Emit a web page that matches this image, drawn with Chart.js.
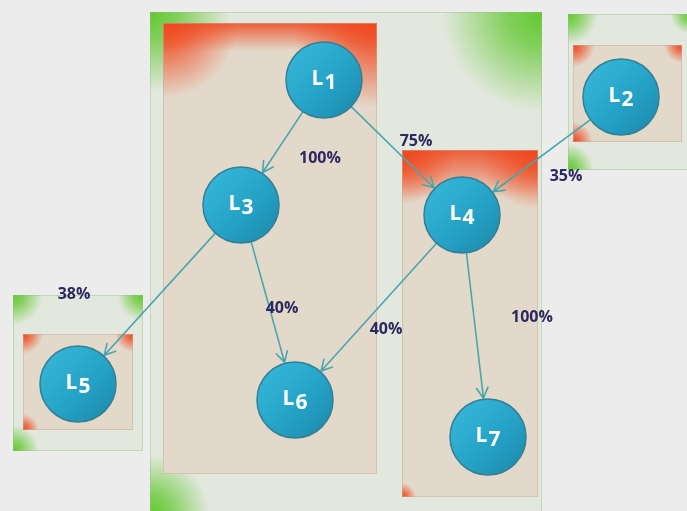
<!DOCTYPE html>
<html>
<head>
<meta charset="utf-8">
<script src="https://cdn.jsdelivr.net/npm/chart.js@4/dist/chart.umd.min.js"></script>
<style>
  html, body { margin: 0; padding: 0; background: #ececec; }
  #wrap { width: 687px; height: 511px; }
</style>
</head>
<body>
<div id="wrap"><canvas id="diagram"></canvas></div>
<script>
// nodes
const nodeNames = ['L1', 'L2', 'L3', 'L4', 'L5', 'L6', 'L7'];
const nodeX = [324, 621, 241, 462, 78, 295, 488];
const nodeY = [80, 97, 205, 215, 384, 400, 437];

// links between nodes
const edgeFrom = ['L1', 'L1', 'L2', 'L3', 'L3', 'L4', 'L4'];
const edgeTo = ['L3', 'L4', 'L4', 'L5', 'L6', 'L6', 'L7'];
const edgeShares = ['100%', '75%', '35%', '38%', '40%', '40%', '100%'];
const shareX = [320, 416, 566, 74, 282, 386, 532];
const shareY = [158, 141, 176, 294, 308, 329, 317];

// group frames (value units, same as the axes); band = faded strip along the top
const greenFrames = [
    { x0: 150, y0: 12, x1: 542, y1: 515, band: 0, corners: [[0, 0, 80], [1, 0, 100], [0, 1, 60]] },
    { x0: 568, y0: 14, x1: 690, y1: 170, band: 0, corners: [[0, 0, 30], [1, 0, 20], [0, 1, 26]] },
    { x0: 13, y0: 295, x1: 143, y1: 451, band: 0, corners: [[0, 0, 30], [1, 0, 26], [0, 1, 26]] }
];
const redFrames = [
    { x0: 163, y0: 23, x1: 377, y1: 474, band: 28, corners: [[0, 0, 75], [1, 0, 85]] },
    { x0: 402, y0: 150, x1: 538, y1: 497, band: 48, corners: [[0, 0, 55], [1, 0, 60], [0, 1, 14]] },
    { x0: 573, y0: 45, x1: 682, y1: 142, band: 0, corners: [[0, 0, 22], [1, 0, 18], [0, 1, 20]] },
    { x0: 23, y0: 334, x1: 133, y1: 430, band: 0, corners: [[0, 0, 20], [1, 0, 18], [0, 1, 16]] }
];

const NODE_R = 38;

function px(chart, x) { return chart.scales.x.getPixelForValue(x); }
function py(chart, y) { return chart.scales.y.getPixelForValue(y); }

function drawFrame(chart, f, base, rgb, border) {
    const ctx = chart.ctx;
    const x0 = px(chart, f.x0), x1 = px(chart, f.x1);
    const y0 = py(chart, f.y0), y1 = py(chart, f.y1);
    ctx.save();
    ctx.beginPath();
    ctx.rect(x0, y0, x1 - x0, y1 - y0);
    ctx.fillStyle = base;
    ctx.fill();
    ctx.clip();
    if (f.band) {
        const lg = ctx.createLinearGradient(0, y0, 0, y0 + f.band);
        lg.addColorStop(0, 'rgba(' + rgb + ',0.85)');
        lg.addColorStop(1, 'rgba(' + rgb + ',0)');
        ctx.fillStyle = lg;
        ctx.fillRect(x0, y0, x1 - x0, f.band);
    }
    f.corners.forEach(c => {
        const cx = c[0] ? x1 : x0;
        const cy = c[1] ? y1 : y0;
        const g = ctx.createRadialGradient(cx, cy, 0, cx, cy, c[2]);
        g.addColorStop(0, 'rgba(' + rgb + ',1)');
        g.addColorStop(0.35, 'rgba(' + rgb + ',0.75)');
        g.addColorStop(1, 'rgba(' + rgb + ',0)');
        ctx.fillStyle = g;
        ctx.fillRect(cx - c[2], cy - c[2], c[2] * 2, c[2] * 2);
    });
    ctx.restore();
    ctx.save();
    ctx.strokeStyle = border;
    ctx.lineWidth = 1;
    ctx.strokeRect(x0 + 0.5, y0 + 0.5, x1 - x0 - 1, y1 - y0 - 1);
    ctx.restore();
}

const diagramPlugin = {
    id: 'diagram',
    beforeDraw(chart) {
        const ctx = chart.ctx;
        ctx.save();
        ctx.fillStyle = '#ececec';
        ctx.fillRect(0, 0, chart.width, chart.height);
        ctx.restore();
    },
    beforeDatasetsDraw(chart) {
        const ctx = chart.ctx;
        greenFrames.forEach(f => drawFrame(chart, f, '#e2e8dd', '98,200,48', 'rgba(150,190,120,0.4)'));
        redFrames.forEach(f => drawFrame(chart, f, '#e3d9ca', '240,72,30', 'rgba(200,170,150,0.5)'));

        // links with open arrow heads
        ctx.save();
        ctx.strokeStyle = '#4aa6ad';
        ctx.lineWidth = 1.6;
        ctx.lineCap = 'round';
        edgeFrom.forEach((from, i) => {
            const a = nodeNames.indexOf(from), b = nodeNames.indexOf(edgeTo[i]);
            const ax = px(chart, nodeX[a]), ay = py(chart, nodeY[a]);
            const bx = px(chart, nodeX[b]), by = py(chart, nodeY[b]);
            const d = Math.hypot(bx - ax, by - ay);
            const ux = (bx - ax) / d, uy = (by - ay) / d;
            const sx = ax + ux * NODE_R, sy = ay + uy * NODE_R;
            const tx = bx - ux * (NODE_R + 1), ty = by - uy * (NODE_R + 1);
            ctx.beginPath();
            ctx.moveTo(sx, sy);
            ctx.lineTo(tx, ty);
            const ang = Math.atan2(uy, ux);
            const h = 12;
            ctx.moveTo(tx - h * Math.cos(ang - 0.5), ty - h * Math.sin(ang - 0.5));
            ctx.lineTo(tx, ty);
            ctx.lineTo(tx - h * Math.cos(ang + 0.5), ty - h * Math.sin(ang + 0.5));
            ctx.stroke();
        });
        ctx.restore();
    },
    afterDatasetsDraw(chart) {
        const ctx = chart.ctx;
        ctx.save();
        // node names, digit set a little lower
        ctx.fillStyle = '#ffffff';
        ctx.textBaseline = 'middle';
        ctx.font = 'bold 21px "Open Sans"';
        nodeNames.forEach((name, i) => {
            const x = px(chart, nodeX[i]), y = py(chart, nodeY[i]);
            const L = name.charAt(0), n = name.slice(1);
            const wl = ctx.measureText(L).width, wn = ctx.measureText(n).width;
            const left = x - (wl + wn + 1) / 2;
            ctx.textAlign = 'left';
            ctx.fillText(L, left, y - 1);
            ctx.fillText(n, left + wl + 1, y + 3);
        });
        // percentages
        ctx.fillStyle = '#2c2860';
        ctx.font = 'bold 16px "Open Sans"';
        ctx.textAlign = 'center';
        edgeShares.forEach((s, i) => {
            ctx.fillText(s, px(chart, shareX[i]), py(chart, shareY[i]));
        });
        ctx.restore();
    }
};

function nodeFill(context) {
    const chart = context.chart;
    const i = context.dataIndex;
    if (!chart.chartArea || i === undefined || !chart.scales.x) return '#25a2c5';
    const x = px(chart, nodeX[i]), y = py(chart, nodeY[i]);
    const g = chart.ctx.createLinearGradient(x - NODE_R, y - NODE_R, x + NODE_R, y + NODE_R);
    g.addColorStop(0, '#38bbdc');
    g.addColorStop(0.55, '#25a3c7');
    g.addColorStop(1, '#1b87a8');
    return g;
}

const chartDiagram = new Chart(document.getElementById('diagram').getContext('2d'), {
    type: 'scatter',
    data: {
        datasets: [{
            label: 'Nodes',
            data: nodeX.map((x, i) => ({ x: x, y: nodeY[i] })),
            pointRadius: NODE_R,
            pointHoverRadius: NODE_R,
            backgroundColor: nodeFill,
            borderColor: '#347f94',
            borderWidth: 1.5,
            clip: false
        }]
    },
    options: {
        responsive: true,
        maintainAspectRatio: false,
        animation: false,
        events: [],
        layout: { padding: 0, autoPadding: false },
        scales: {
            x: { type: 'linear', min: 0, max: 687, display: false },
            y: { type: 'linear', min: 0, max: 511, reverse: true, display: false }
        },
        plugins: {
            legend: { display: false },
            tooltip: { enabled: false },
            title: { display: false }
        }
    },
    plugins: [diagramPlugin]
});
</script>
</body>
</html>
